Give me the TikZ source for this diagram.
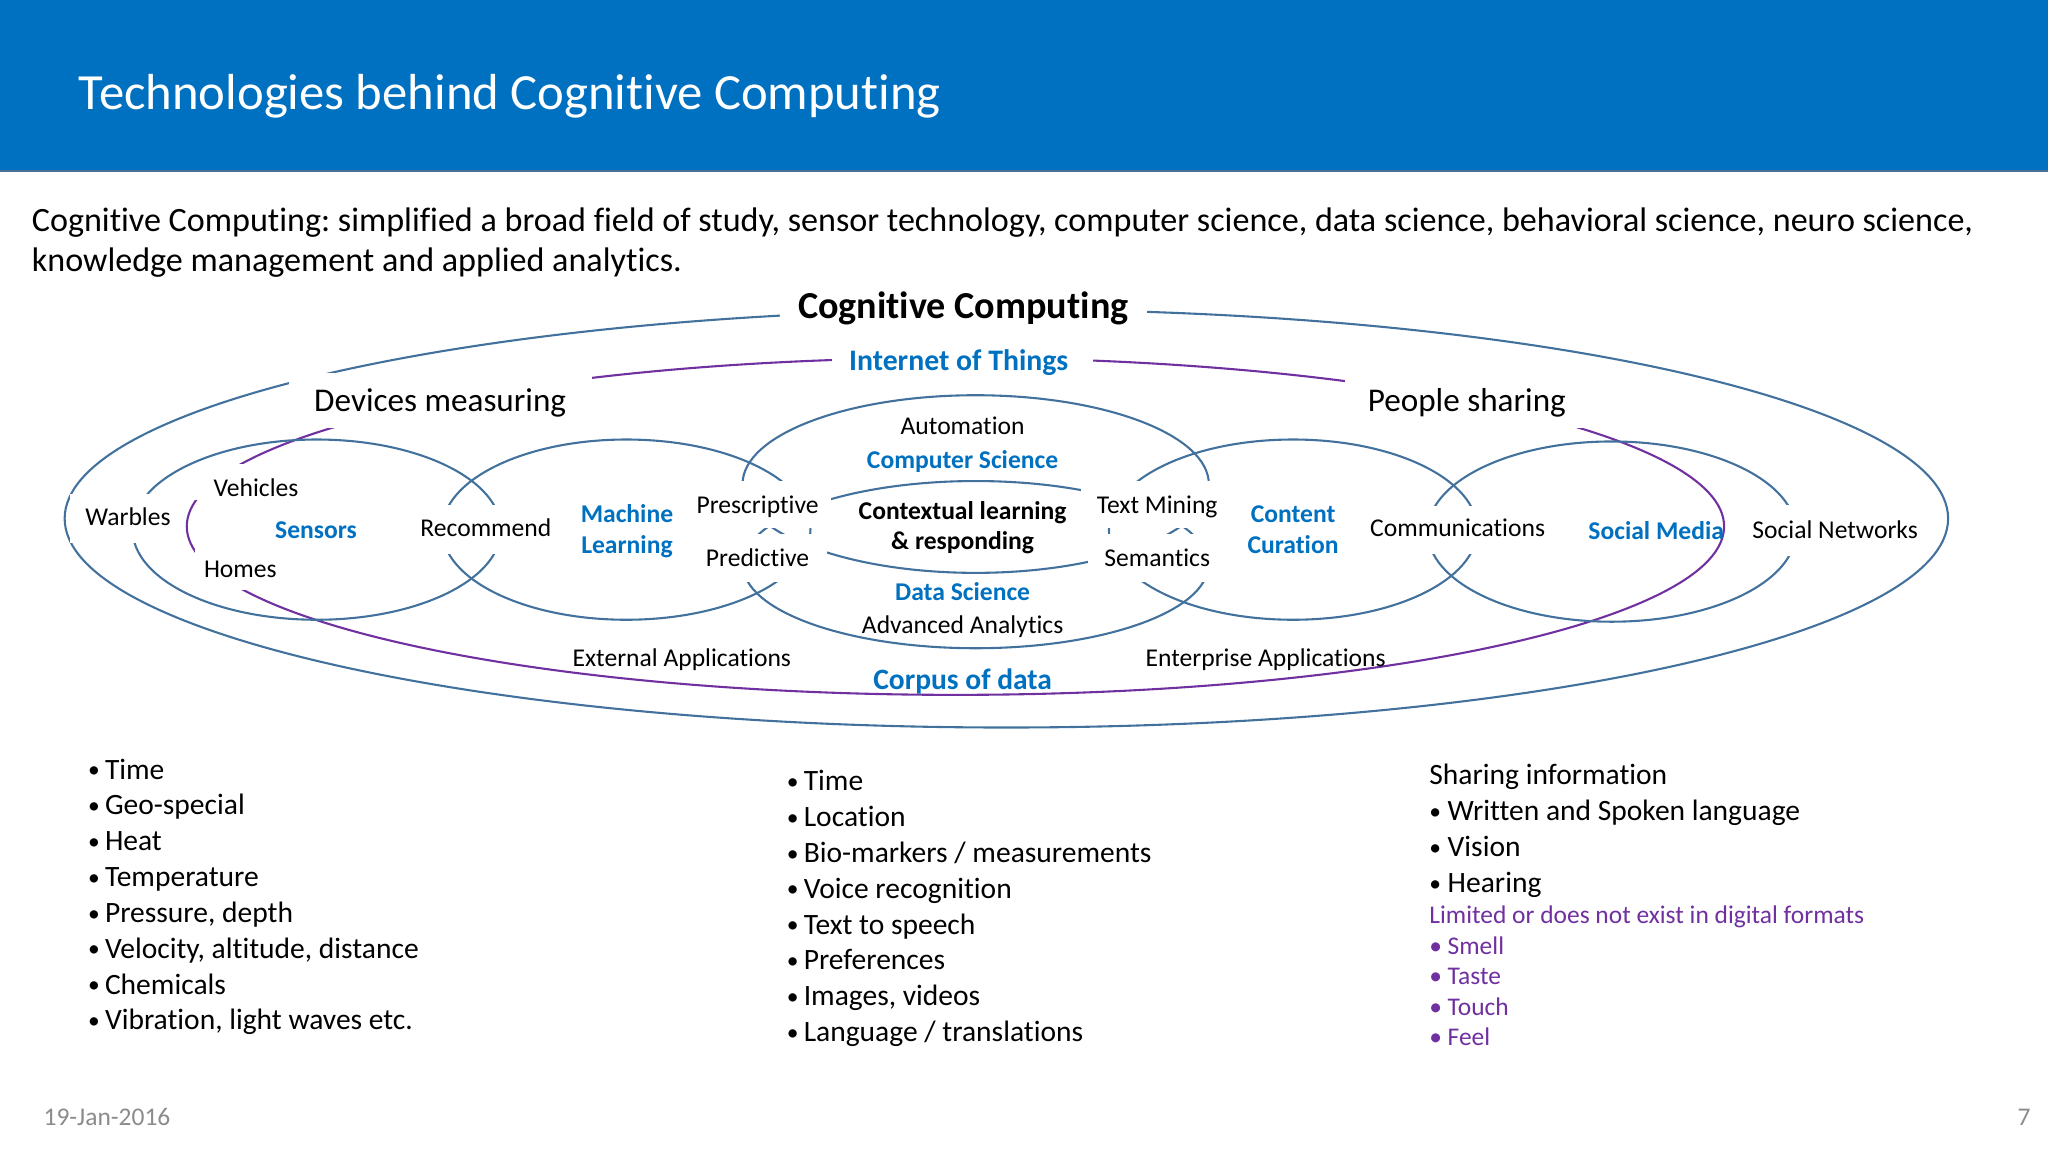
\documentclass[tikz,border=0pt]{standalone}
\usepackage{fontspec}
\setmainfont{Carlito}[Ligatures=NoCommon]
\frenchspacing
\definecolor{hdrblue}{HTML}{0070C0}
\definecolor{hdrline}{HTML}{4A6E95}
\definecolor{ellblue}{HTML}{41719C}
\definecolor{mypurple}{HTML}{7030A0}
\definecolor{myblue}{HTML}{0070C0}
\definecolor{footgray}{HTML}{8B8B8B}
\newcommand\bt{\makebox[6.5pt][l]{\raisebox{0.5pt}{\fontsize{9}{9}\selectfont •}}}
\newcommand\pbt{\makebox[7pt][l]{•}}
\tikzset{
  ell/.style={draw=ellblue, line width=0.8pt},
  pur/.style={draw=mypurple, line width=0.8pt},
  mask/.style={fill=white},
  lab/.style={inner sep=0pt, anchor=base, font=\fontsize{9.8}{11.8}\selectfont},
  blab/.style={inner sep=0pt, anchor=base, text=myblue, font=\fontsize{9.8}{11.8}\selectfont\bfseries},
  bul/.style={inner sep=0pt, anchor=base west, font=\fontsize{11.3}{13.6}\selectfont},
  pbul/.style={inner sep=0pt, anchor=base west, text=mypurple, font=\fontsize{9.75}{11.7}\selectfont},
}
\begin{document}
\begin{tikzpicture}[x=0.5pt,y=-0.5pt]
\useasboundingbox (0,0) rectangle (1568,882);
% header
\fill[hdrblue] (0,0) rectangle (1568,131);
\draw[hdrline, line width=0.8pt] (0,131) -- (1568,131);
\node[inner sep=0pt, anchor=base west, text=white, font=\fontsize{19.4}{23}\selectfont] (title) at (60,83.5) {Technologies behind Cognitive Computing};
% paragraph
\node[inner sep=0pt, anchor=base west, font=\fontsize{13.05}{15.6}\selectfont] (para1) at (24,177) {Cognitive Computing: simplified a broad field of study, sensor technology, computer science, data science, behavioral science, neuro science,};
\node[inner sep=0pt, anchor=base west, font=\fontsize{13.05}{15.6}\selectfont] (para2) at (24,208) {knowledge management and applied analytics.};

% ellipses
\draw[ell] (770.5,397) ellipse [x radius=360.5pt, y radius=80pt];
\draw[pur] (731.5,403) ellipse [x radius=294.25pt, y radius=64.5pt];
\draw[ell] (242.5,405.5) ellipse [x radius=70.5pt, y radius=34.5pt];
\draw[ell] (479.5,405.5) ellipse [x radius=70.5pt, y radius=34.5pt];
\draw[ell] (990,405.5) ellipse [x radius=70.5pt, y radius=34.5pt];
\draw[ell] (1234,407) ellipse [x radius=70.5pt, y radius=34.5pt];
\draw[ell] (747,370.6) ellipse [x radius=89.25pt, y radius=34pt];
\draw[ell] (747,432.3) ellipse [x radius=89.1pt, y radius=32pt];

% label backgrounds (white boxes hiding the lines)
\fill[mask] (597,212) rectangle (878,258);
\fill[mask] (637,260) rectangle (837,294);
\fill[mask] (221.5,285.5) rectangle (453,328);
\fill[mask] (1030,285.5) rectangle (1220,328);
\fill[mask] (527,368) rectangle (636.5,404);
\fill[mask] (535,408.5) rectangle (633,445.4);
\fill[mask] (828,368) rectangle (940,404);
\fill[mask] (833,408.5) rectangle (935,445.4);
\fill[mask] (318,387) rectangle (427,424);
\fill[mask] (53.5,378) rectangle (137,415.5);
\fill[mask] (149,355) rectangle (240,383);
\fill[mask] (149,417) rectangle (225,452);
\fill[mask] (1045,387.5) rectangle (1188,424);
\fill[mask] (1338,387) rectangle (1472,426);

% diagram labels
\node[inner sep=0pt, anchor=base, font=\fontsize{14.6}{17}\selectfont\bfseries] (cc) at (737.5,244) {Cognitive Computing};
\node[inner sep=0pt, anchor=base, text=myblue, font=\fontsize{11.4}{13.7}\selectfont\bfseries] (iot) at (734,283.5) {Internet of Things};
\node[inner sep=0pt, anchor=base, font=\fontsize{12.7}{15.2}\selectfont] (dev) at (337,315) {Devices measuring};
\node[inner sep=0pt, anchor=base, font=\fontsize{12.7}{15.2}\selectfont] (ppl) at (1123,315) {People sharing};
\node[lab] (auto) at (737,333) {Automation};
\node[blab] (cs) at (737,359) {Computer Science};
\node[lab] (veh) at (196,380) {Vehicles};
\node[lab] (warb) at (98,402) {Warbles};
\node[blab] (sens) at (242,412) {Sensors};
\node[lab] (homes) at (184,442) {Homes};
\node[lab] (rec) at (372,411) {Recommend};
\node[blab] (ml1) at (480,400) {Machine};
\node[blab] (ml2) at (480,424) {Learning};
\node[lab] (presc) at (580,393) {Prescriptive};
\node[lab] (pred) at (580,434) {Predictive};
\node[lab, font=\fontsize{9.8}{11.8}\selectfont\bfseries] (ctx1) at (737,398) {Contextual learning};
\node[lab, font=\fontsize{9.8}{11.8}\selectfont\bfseries] (ctx2) at (737,421) {\& responding};
\node[lab] (tm) at (886,393) {Text Mining};
\node[lab] (sem) at (886,434) {Semantics};
\node[blab] (cur1) at (990,400) {Content};
\node[blab] (cur2) at (990,424) {Curation};
\node[lab] (comm) at (1116,411) {Communications};
\node[blab] (sm) at (1268,413) {Social Media};
\node[lab] (sn) at (1405,412) {Social Networks};
\node[blab] (ds) at (737,460) {Data Science};
\node[lab] (aa) at (737,485) {Advanced Analytics};
\node[lab] (ext) at (522,510.5) {External Applications};
\node[lab] (ent) at (969,510.5) {Enterprise Applications};
\node[inner sep=0pt, anchor=base, text=myblue, font=\fontsize{11.3}{13.6}\selectfont\bfseries] (corp) at (737,527.7) {Corpus of data};

% lists
\foreach \t [count=\i from 0] in {Time,Geo-special,Heat,Temperature,{Pressure, depth},{Velocity, altitude, distance},Chemicals,{Vibration, light waves etc.}}
  \node[bul] (left\i) at (67,{596.5+27.43*\i}) {\bt\t};
\foreach \t [count=\i from 0] in {Time,Location,Bio-markers / measurements,Voice recognition,Text to speech,Preferences,{Images, videos},Language / translations}
  \node[bul] (mid\i) at (602,{605.5+27.4*\i}) {\bt\t};
\node[bul] (share) at (1094,600.5) {Sharing information};
\foreach \t [count=\i from 0] in {Written and Spoken language,Vision,Hearing}
  \node[bul] (right\i) at (1094,{628.5+27.5*\i}) {\makebox[7pt][l]{\raisebox{0.5pt}{\fontsize{9}{9}\selectfont •}}\t};
\node[pbul] (lim) at (1094,707) {Limited or does not exist in digital formats};
\foreach \t [count=\i from 0] in {Smell,Taste,Touch,Feel}
  \node[pbul] (sense\i) at (1094,{730.5+23.4*\i}) {\pbt\t};

% footer
\node[inner sep=0pt, anchor=base west, text=footgray, font=\fontsize{9.75}{11.7}\selectfont] (date) at (33,862) {19-Jan-2016};
\node[inner sep=0pt, anchor=base east, text=footgray, font=\fontsize{9.75}{11.7}\selectfont] (page) at (1555,862) {7};
\end{tikzpicture}
\end{document}
